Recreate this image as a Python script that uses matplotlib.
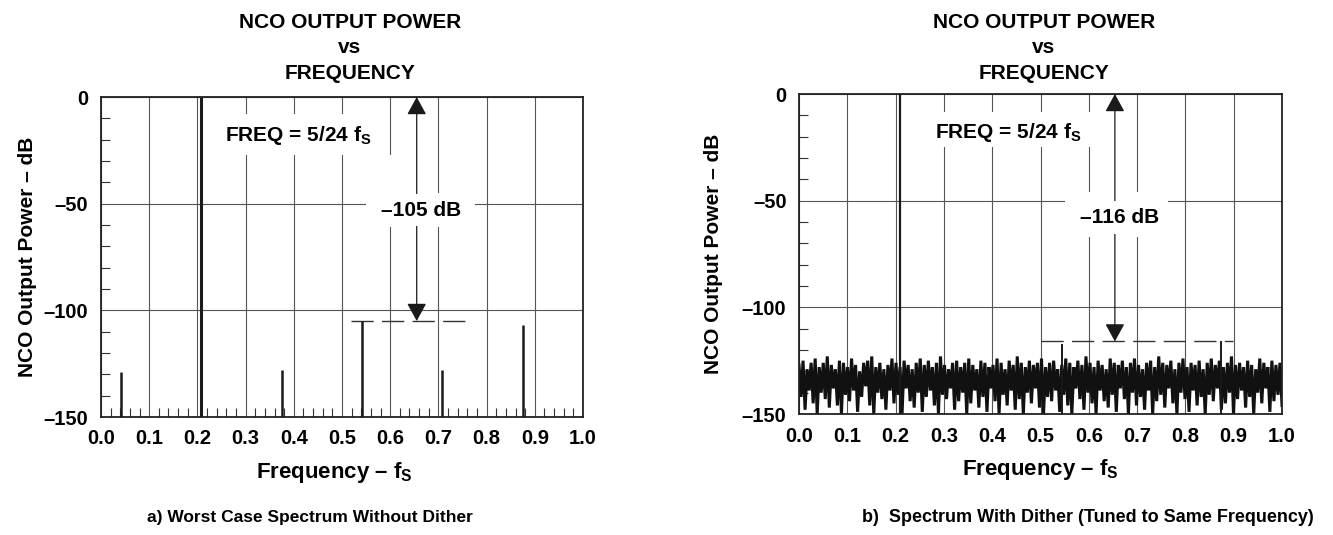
import numpy as np
import matplotlib
matplotlib.use('Agg')
import matplotlib.pyplot as plt
from matplotlib.patches import Rectangle

plt.rcParams['font.family'] = ['Liberation Sans', 'DejaVu Sans']
plt.rcParams['font.weight'] = 'bold'
plt.rcParams['mathtext.fontset'] = 'custom'
plt.rcParams['mathtext.rm'] = 'Liberation Sans:bold'
plt.rcParams['mathtext.it'] = 'Liberation Sans:bold'
plt.rcParams['mathtext.bf'] = 'Liberation Sans:bold'

# ---- data ----
x_ticks = [0.0, 0.1, 0.2, 0.3, 0.4, 0.5, 0.6, 0.7, 0.8, 0.9, 1.0]
x_tick_labels = ['0.0', '0.1', '0.2', '0.3', '0.4', '0.5', '0.6', '0.7', '0.8', '0.9', '1.0']
y_ticks = [0, -50, -100, -150]
y_tick_labels = ['0', '\u201350', '\u2013100', '\u2013150']

tone_freq = 5 / 24
tone_level = 0

# a) without dither: discrete spurs
spur_freq_a = [1 / 24, 9 / 24, 13 / 24, 17 / 24, 21 / 24]
spur_level_a = [-129, -128, -105, -128, -107]
worst_a = -105

# b) with dither: noise floor (alternating peaks / troughs) plus two small spurs
spur_freq_b = [0.544, 0.874]
spur_level_b = [-117, -116]
worst_b = -116

noise_peaks = [
    -127, -125, -129, -126, -124, -128, -126, -123, -127, -129,
    -125, -126, -128, -124, -127, -130, -126, -125, -123, -128,
    -126, -129, -127, -124, -126, -128, -125, -127, -129, -126,
    -124, -127, -125, -128, -126, -123, -127, -129, -126, -125,
    -128, -126, -124, -127, -129, -125, -126, -128, -127, -124,
    -126, -129, -125, -127, -123, -126, -128, -125, -127, -126,
    -124, -128, -126, -125, -129, -127, -124, -126, -128, -125,
    -127, -123, -126, -128, -125, -127, -129, -124, -126, -127,
    -125, -128, -126, -124, -127, -129, -126, -125, -128, -123,
    -126, -127, -125, -129, -126, -124, -128, -126, -127, -125,
    -129, -126, -124, -127, -125, -128, -126, -123, -127, -126,
    -128, -125, -127, -129, -124, -126, -128, -125, -127, -126]
noise_troughs = [
    -142, -148, -139, -145, -150, -140, -143, -147, -138, -146,
    -150, -141, -144, -139, -149, -142, -137, -146, -150, -140,
    -143, -148, -139, -145, -141, -150, -138, -144, -147, -140,
    -149, -142, -139, -146, -150, -141, -143, -138, -148, -144,
    -140, -150, -145, -139, -147, -142, -149, -138, -144, -150,
    -141, -146, -139, -148, -143, -150, -140, -145, -138, -147,
    -150, -142, -144, -139, -149, -141, -146, -150, -138, -143,
    -148, -140, -145, -150, -139, -144, -147, -141, -149, -138,
    -143, -150, -140, -146, -142, -148, -139, -150, -144, -141,
    -147, -138, -145, -150, -140, -143, -149, -139, -146, -142,
    -150, -141, -144, -138, -148, -145, -140, -150, -143, -139,
    -147, -142, -150, -140, -145, -138, -149, -144, -141, -146]

W, H = 1333, 535
fig = plt.figure(figsize=(W / 100, H / 100), dpi=100)


def fx(x):
    return x / W


def fy(y):
    return 1 - y / H


ax_a = fig.add_axes([fx(101), fy(417), fx(583 - 101), (417 - 97) / H])
ax_b = fig.add_axes([fx(799), fy(414), fx(1282 - 799), (414 - 94) / H])

for ax in (ax_a, ax_b):
    ax.set_xlim(0, 1.0)
    ax.set_ylim(-150, 0)
    ax.set_xticks(x_ticks)
    ax.set_xticklabels(x_tick_labels, fontsize=14.5, fontweight='bold')
    ax.set_yticks(y_ticks)
    ax.set_yticklabels(y_tick_labels, fontsize=14.5, fontweight='bold')
    ax.set_yticks(np.arange(-140, 0, 10), minor=True)
    ax.tick_params(which='major', length=0, pad=9)
    ax.tick_params(axis='y', which='minor', direction='in', length=6.5, width=0.8, color='#333333')
    ax.set_axisbelow(True)
    ax.grid(True, color='#555555', lw=0.8)
    for s in ax.spines.values():
        s.set_linewidth(1.3)
        s.set_color('#222222')

ax_a.set_xticks(np.arange(0.02, 1.0, 0.02), minor=True)
ax_a.tick_params(axis='x', which='minor', direction='in', length=6.5, width=0.8, color='#333333')
ax_b.tick_params(axis='x', which='minor', length=0)

# ---- panel a ----
ax = ax_a
# white areas behind the labels (they break the grid)
ax.add_patch(Rectangle((0.24, -27), 0.34, 19, facecolor='white', edgecolor='none', zorder=1))
ax.add_patch(Rectangle((0.55, -61), 0.225, 16, facecolor='white', edgecolor='none', zorder=1))
ax.add_patch(Rectangle((0.58, -45), 0.04, 18, facecolor='white', edgecolor='none', zorder=1))
ax.vlines(tone_freq, -150, tone_level, color='#1a1a1a', lw=2.2, zorder=3)
ax.vlines(spur_freq_a, -150, spur_level_a, color='#1a1a1a', lw=1.8, zorder=3)
ax.plot([0.518, 0.756], [worst_a, worst_a], color='#333333', lw=1.0, dashes=(16, 6), zorder=2)
ax.annotate('', xy=(0.655, 0), xytext=(0.655, worst_a),
            arrowprops=dict(arrowstyle='<|-|>,head_length=1.1,head_width=0.6', mutation_scale=10,
                            color='#1a1a1a', lw=0.9, shrinkA=0, shrinkB=0), zorder=3)
ax.text(0.41, -18, 'FREQ = 5/24 f$_\\mathregular{S}$', fontsize=15, fontweight='bold',
        ha='center', va='center', zorder=4)
ax.text(0.664, -53, '\u2013105 dB', fontsize=15, fontweight='bold', ha='center', va='center',
        zorder=4, bbox=dict(facecolor='white', edgecolor='none', pad=5))

# ---- panel b ----
ax = ax_b
noise_vals = np.ravel(np.column_stack([noise_peaks, noise_troughs]))
noise_x = np.linspace(0, 1, len(noise_vals))
ax.add_patch(Rectangle((0.26, -25), 0.36, 16.5, facecolor='white', edgecolor='none', zorder=1))
ax.add_patch(Rectangle((0.55, -67), 0.213, 21, facecolor='white', edgecolor='none', zorder=1))
ax.plot(noise_x, noise_vals, color='#111111', lw=2.2, zorder=2, solid_joinstyle='miter')
ax.vlines(tone_freq, -150, tone_level, color='#1a1a1a', lw=1.6, zorder=3)
ax.vlines(spur_freq_b, -150, spur_level_b, color='#1a1a1a', lw=1.4, zorder=3)
ax.plot([0.502, 0.899], [worst_b, worst_b], color='#333333', lw=1.0, dashes=(16, 6), zorder=2)
ax.annotate('', xy=(0.654, 0), xytext=(0.654, worst_b),
            arrowprops=dict(arrowstyle='<|-|>,head_length=1.1,head_width=0.6', mutation_scale=10,
                            color='#1a1a1a', lw=0.9, shrinkA=0, shrinkB=0), zorder=3)
ax.text(0.433, -18, 'FREQ = 5/24 f$_\\mathregular{S}$', fontsize=15, fontweight='bold',
        ha='center', va='center', zorder=4)
ax.text(0.664, -58, '\u2013116 dB', fontsize=15, fontweight='bold', ha='center', va='center',
        zorder=4, bbox=dict(facecolor='white', edgecolor='none', pad=5))

# ---- outside texts ----
for cx in (350, 1044):
    fig.text(fx(cx), fy(28), 'NCO OUTPUT POWER', fontsize=15, fontweight='bold', ha='center', va='baseline')
    fig.text(fx(cx), fy(53), 'vs', fontsize=15, fontweight='bold', ha='center', va='baseline')
    fig.text(fx(cx), fy(79), 'FREQUENCY', fontsize=15, fontweight='bold', ha='center', va='baseline')

fig.text(fx(28), fy(257), 'NCO Output Power \u2013 dB', fontsize=15, fontweight='bold',
         rotation=90, ha='center', va='center')
fig.text(fx(714), fy(254), 'NCO Output Power \u2013 dB', fontsize=15, fontweight='bold',
         rotation=90, ha='center', va='center')

fig.text(fx(334), fy(478), 'Frequency \u2013 f$_\\mathregular{S}$', fontsize=16, fontweight='bold',
         ha='center', va='baseline')
fig.text(fx(1040), fy(475), 'Frequency \u2013 f$_\\mathregular{S}$', fontsize=16, fontweight='bold',
         ha='center', va='baseline')

fig.text(fx(310), fy(522), 'a) Worst Case Spectrum Without Dither', fontsize=12.5, fontweight='bold',
         ha='center', va='baseline')
fig.text(fx(1088), fy(522), 'b)  Spectrum With Dither (Tuned to Same Frequency)', fontsize=13,
         fontweight='bold', ha='center', va='baseline')

fig.savefig('out.png', dpi=100)
